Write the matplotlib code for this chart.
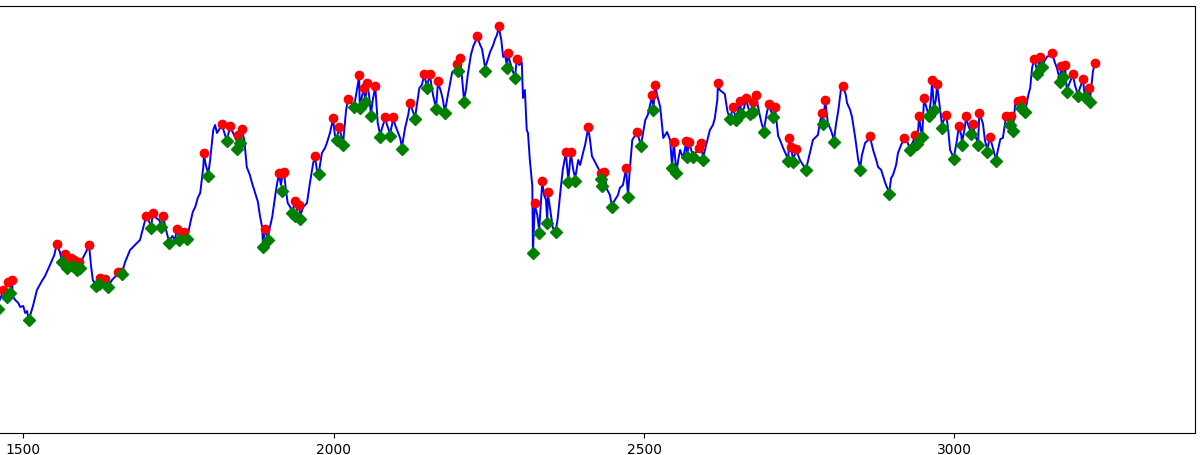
import matplotlib
matplotlib.use("Agg")
import matplotlib.pyplot as plt

# ---- data ----
line_x = [1462, 1467, 1474, 1479, 1482, 1483, 1487, 1492, 1495, 1500, 1503, 1506, 1509, 1516, 1522, 1530, 1535, 1543, 1550, 1554,
          1559, 1562, 1567, 1570, 1577, 1580, 1583, 1587, 1590, 1591, 1596, 1601, 1606, 1609, 1612, 1617, 1622, 1624, 1628, 1632,
          1637, 1643, 1649, 1653, 1657, 1659, 1664, 1672, 1680, 1688, 1693, 1698, 1703, 1706, 1709, 1714, 1719, 1722, 1725, 1730,
          1735, 1740, 1744, 1748, 1751, 1756, 1759, 1764, 1769, 1773, 1777, 1781, 1785, 1790, 1791, 1794, 1798, 1801, 1806, 1809,
          1812, 1817, 1820, 1825, 1828, 1833, 1838, 1843, 1846, 1849, 1852, 1856, 1860, 1865, 1868, 1873, 1878, 1881, 1885, 1886,
          1889, 1894, 1897, 1901, 1906, 1909, 1912, 1915, 1918, 1920, 1923, 1926, 1930, 1933, 1938, 1941, 1944, 1946, 1951, 1957,
          1962, 1967, 1970, 1973, 1976, 1981, 1986, 1989, 1994, 1999, 2002, 2005, 2009, 2012, 2015, 2020, 2023, 2028, 2033, 2038,
          2041, 2042, 2046, 2049, 2051, 2054, 2057, 2060, 2063, 2067, 2071, 2075, 2078, 2083, 2086, 2091, 2096, 2099, 2104, 2107,
          2110, 2115, 2120, 2123, 2128, 2131, 2138, 2142, 2146, 2150, 2155, 2160, 2165, 2168, 2173, 2176, 2179, 2184, 2191, 2196,
          2199, 2200, 2204, 2207, 2210, 2213, 2216, 2221, 2225, 2228, 2231, 2236, 2239, 2244, 2247, 2252, 2257, 2260, 2263, 2266,
          2270, 2273, 2276, 2279, 2281, 2284, 2289, 2292, 2295, 2299, 2303, 2305, 2308, 2311, 2313, 2316, 2320, 2321, 2324, 2328,
          2331, 2336, 2339, 2342, 2344, 2345, 2350, 2353, 2358, 2361, 2365, 2369, 2374, 2378, 2382, 2386, 2389, 2394, 2397, 2402,
          2405, 2410, 2413, 2416, 2421, 2426, 2431, 2432, 2436, 2440, 2445, 2448, 2453, 2458, 2461, 2466, 2471, 2474, 2477, 2481,
          2486, 2489, 2495, 2502, 2506, 2513, 2515, 2518, 2521, 2526, 2531, 2534, 2537, 2542, 2545, 2548, 2552, 2555, 2558, 2563,
          2568, 2569, 2573, 2576, 2579, 2584, 2589, 2592, 2595, 2600, 2606, 2611, 2614, 2618, 2619, 2622, 2626, 2630, 2634, 2635,
          2639, 2643, 2648, 2651, 2655, 2656, 2661, 2664, 2668, 2671, 2676, 2680, 2684, 2687, 2690, 2693, 2698, 2701, 2705, 2708,
          2711, 2716, 2719, 2724, 2729, 2732, 2734, 2737, 2740, 2745, 2751, 2756, 2761, 2767, 2772, 2775, 2780, 2784, 2787, 2788,
          2792, 2796, 2801, 2806, 2809, 2813, 2817, 2821, 2825, 2827, 2832, 2835, 2840, 2845, 2848, 2851, 2856, 2861, 2864, 2869,
          2874, 2877, 2882, 2888, 2891, 2895, 2898, 2901, 2906, 2909, 2914, 2919, 2924, 2928, 2933, 2937, 2940, 2943, 2946, 2948,
          2951, 2956, 2959, 2962, 2964, 2967, 2970, 2972, 2975, 2980, 2983, 2987, 2990, 2993, 2999, 3004, 3007, 3011, 3012, 3016,
          3019, 3022, 3027, 3030, 3033, 3038, 3040, 3043, 3046, 3049, 3053, 3057, 3062, 3067, 3070, 3074, 3078, 3083, 3086, 3090,
          3091, 3094, 3098, 3102, 3106, 3107, 3109, 3114, 3119, 3122, 3125, 3128, 3131, 3133, 3138, 3141, 3144, 3149, 3154, 3157,
          3162, 3165, 3170, 3172, 3175, 3178, 3181, 3186, 3191, 3194, 3199, 3202, 3207, 3210, 3214, 3217, 3218, 3223, 3226]
line_y = [150, 158, 154, 160, 169, 154, 150, 147, 143, 144, 137, 139, 130, 145, 160, 169, 174, 185, 195, 206,
          198, 190, 196, 184, 192, 185, 189, 182, 188, 184, 192, 198, 205, 185, 170, 165, 168, 172, 167, 171,
          164, 170, 174, 178, 178, 177, 188, 200, 205, 210, 222, 234, 228, 224, 237, 232, 230, 225, 234, 220,
          208, 214, 210, 221, 212, 216, 218, 212, 227, 238, 243, 252, 257, 283, 295, 285, 276, 290, 320, 325,
          317, 322, 325, 315, 310, 323, 317, 310, 314, 308, 320, 310, 283, 275, 268, 258, 248, 235, 222, 205,
          220, 212, 222, 233, 255, 267, 276, 265, 277, 278, 260, 247, 243, 238, 248, 240, 245, 234, 243, 247,
          268, 287, 293, 280, 277, 297, 302, 307, 317, 331, 315, 312, 322, 315, 306, 340, 350, 347, 344, 362,
          374, 344, 355, 361, 350, 366, 355, 336, 350, 363, 327, 315, 322, 332, 325, 316, 332, 325, 317, 312,
          303, 322, 335, 346, 338, 332, 362, 365, 375, 364, 375, 355, 342, 368, 358, 350, 338, 355, 378, 380,
          385, 380, 391, 370, 350, 360, 375, 395, 404, 408, 413, 405, 401, 382, 388, 398, 405, 411, 415, 423,
          410, 393, 395, 385, 396, 388, 378, 373, 390, 385, 388, 352, 360, 320, 317, 290, 264, 198, 245, 235,
          220, 268, 255, 250, 229, 257, 235, 222, 220, 232, 257, 280, 297, 270, 297, 280, 272, 290, 285, 298,
          305, 322, 310, 294, 288, 282, 276, 265, 278, 261, 255, 245, 250, 255, 262, 265, 281, 255, 280, 310,
          315, 317, 305, 330, 335, 354, 342, 364, 355, 343, 312, 315, 318, 310, 285, 307, 278, 290, 300, 292,
          308, 295, 307, 300, 294, 298, 302, 306, 292, 305, 320, 325, 332, 350, 366, 360, 358, 356, 340, 337,
          332, 342, 332, 338, 348, 337, 342, 351, 342, 337, 347, 355, 342, 333, 325, 320, 338, 345, 338, 334,
          342, 314, 310, 302, 295, 290, 310, 302, 290, 300, 290, 285, 281, 297, 310, 312, 315, 330, 336, 328,
          349, 327, 320, 310, 325, 340, 360, 363, 355, 347, 340, 333, 313, 290, 282, 295, 307, 310, 313, 300,
          290, 283, 280, 268, 263, 258, 272, 275, 285, 297, 305, 311, 308, 302, 308, 314, 307, 333, 320, 314,
          351, 340, 335, 350, 369, 342, 350, 365, 350, 325, 330, 334, 320, 300, 292, 310, 323, 315, 307, 320,
          333, 325, 317, 326, 315, 307, 336, 332, 326, 310, 300, 313, 302, 290, 300, 311, 312, 333, 330, 326,
          333, 320, 347, 349, 345, 343, 350, 339, 355, 362, 382, 390, 385, 378, 392, 384, 388, 393, 395, 397,
          387, 382, 370, 383, 374, 385, 360, 368, 375, 365, 355, 362, 370, 354, 356, 362, 349, 378, 387]

peak_x = [1467, 1475, 1482, 1554, 1567, 1577, 1582, 1590, 1606, 1624, 1632, 1653, 1657, 1698, 1709, 1725, 1748, 1759,
          1791, 1820, 1833, 1846, 1852, 1889, 1912, 1918, 1920, 1938, 1944, 1970, 1999, 2009, 2023, 2041, 2049, 2054,
          2067, 2083, 2096, 2123, 2146, 2155, 2168, 2199, 2204, 2231, 2266, 2281, 2295, 2324, 2336, 2345, 2374, 2382,
          2410, 2431, 2436, 2471, 2489, 2513, 2518, 2548, 2568, 2573, 2589, 2592, 2619, 2643, 2655, 2664, 2676, 2680,
          2701, 2711, 2734, 2737, 2745, 2787, 2792, 2821, 2864, 2919, 2937, 2943, 2951, 2964, 2972, 2987, 3007, 3019,
          3030, 3040, 3057, 3083, 3091, 3102, 3109, 3128, 3138, 3157, 3172, 3178, 3191, 3207, 3217, 3226]
peak_y = [160, 168, 170, 206, 196, 192, 190, 188, 205, 172, 171, 178, 178, 234, 237, 234, 221, 218,
          297, 326, 324, 315, 321, 221, 277, 277, 278, 249, 245, 294, 332, 323, 351, 375, 362, 367,
          364, 333, 333, 347, 376, 376, 369, 386, 392, 414, 424, 397, 391, 247, 269, 258, 298, 298,
          323, 277, 278, 282, 318, 355, 365, 308, 309, 308, 302, 307, 367, 343, 349, 352, 348, 355,
          346, 343, 312, 303, 301, 337, 350, 364, 314, 312, 315, 334, 352, 370, 366, 335, 324, 334,
          326, 337, 313, 334, 334, 349, 350, 391, 393, 397, 384, 385, 376, 371, 362, 387]

trough_x = [1459, 1474, 1479, 1509, 1562, 1570, 1580, 1587, 1591, 1617, 1622, 1637, 1659, 1706, 1722, 1735, 1751, 1764,
            1798, 1828, 1844, 1849, 1886, 1894, 1917, 1933, 1938, 1946, 1976, 2005, 2015, 2033, 2042, 2051, 2060, 2075,
            2091, 2110, 2131, 2150, 2165, 2179, 2200, 2210, 2244, 2279, 2292, 2321, 2331, 2344, 2358, 2378, 2389, 2431,
            2432, 2448, 2474, 2495, 2515, 2545, 2552, 2569, 2579, 2595, 2639, 2648, 2656, 2671, 2676, 2693, 2708, 2732,
            2740, 2761, 2788, 2806, 2848, 2895, 2928, 2940, 2948, 2959, 2967, 2980, 2999, 3012, 3027, 3038, 3053, 3067,
            3090, 3094, 3107, 3114, 3133, 3141, 3170, 3175, 3181, 3199, 3210, 3218]
trough_y = [141, 153, 157, 130, 188, 182, 184, 180, 182, 164, 166, 163, 176, 222, 223, 207, 210, 211,
            274, 309, 301, 307, 203, 210, 259, 237, 234, 231, 276, 310, 305, 343, 342, 348, 334, 313,
            314, 301, 331, 362, 341, 337, 379, 348, 379, 382, 372, 197, 217, 227, 218, 268, 269, 271,
            264, 243, 253, 304, 340, 282, 277, 293, 293, 290, 331, 330, 336, 336, 338, 318, 333, 289,
            288, 280, 326, 308, 280, 256, 300, 306, 313, 334, 340, 322, 291, 305, 316, 305, 298, 289,
            325, 319, 342, 338, 376, 383, 368, 373, 358, 354, 353, 348]

x_ticks = [1500, 2000, 2500, 3000]

# ---- figure ----
fig = plt.figure(figsize=(12, 4.55), dpi=100)
ax = fig.add_axes([0.0, 0.0477, 0.9961, 0.9391])

ax.plot(line_x, line_y, color="blue", linewidth=1.4, zorder=2)
ax.plot(peak_x, peak_y, "o", color="red", markersize=6, zorder=3)
ax.plot(trough_x, trough_y, "D", color="green", markersize=6, zorder=4)

ax.set_xlim(1462.5, 3388)
ax.set_ylim(16.7, 444)
ax.set_xticks(x_ticks)
ax.set_xticklabels([str(t) for t in x_ticks])
ax.set_yticks([])
ax.spines["left"].set_visible(False)
ax.tick_params(axis="x", labelsize=10)

fig.savefig("out.png", dpi=100)
